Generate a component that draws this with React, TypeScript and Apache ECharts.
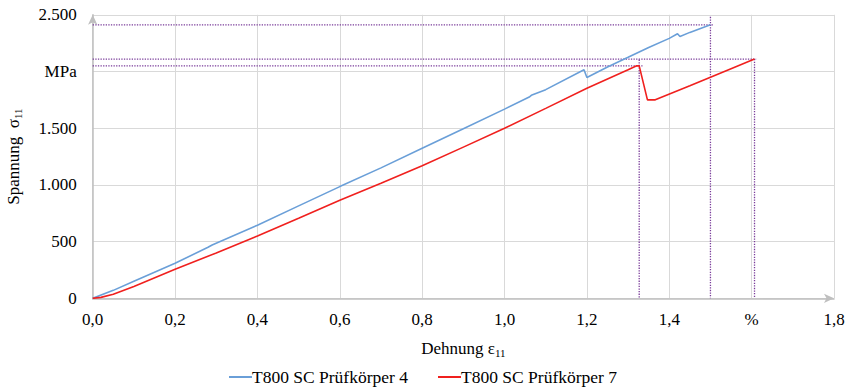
import React, { useEffect, useRef } from "react";
import * as echarts from "echarts";

// Stress–strain curves of two T800 SC specimens
const strainP4 = [0, 0.05, 0.1, 0.2, 0.28, 0.29, 0.4, 0.5, 0.6, 0.7, 0.8, 0.9, 1.0, 1.06, 1.065, 1.1, 1.193, 1.2, 1.25, 1.3, 1.35, 1.4, 1.42, 1.426, 1.45, 1.5];
const stressP4 = [0, 70, 150, 309, 450, 470, 645, 815, 985, 1150, 1324, 1495, 1668, 1775, 1790, 1840, 2015, 1947, 2040, 2125, 2212, 2292, 2333, 2309, 2345, 2412];

const strainP7 = [0, 0.02, 0.05, 0.1, 0.2, 0.3, 0.4, 0.5, 0.6, 0.7, 0.8, 0.9, 1.0, 1.1, 1.2, 1.3, 1.321, 1.327, 1.347, 1.366, 1.45, 1.55, 1.607];
const stressP7 = [0, 8, 35, 105, 256, 400, 550, 705, 865, 1015, 1168, 1333, 1500, 1675, 1853, 2015, 2050, 2050, 1750, 1750, 1875, 2025, 2110];

const seriesNames = ["T800 SC Prüfkörper 4", "T800 SC Prüfkörper 7"];
const xTickUnit = "%";
const yTickUnit = "MPa";

const FONT = "Liberation Serif, serif";

function zip(xs: number[], ys: number[]) {
  return xs.map((x, i) => [x, ys[i]]);
}

// dotted guide from the y axis to a point and down to the x axis
function guide(x: number, y: number, overX: number, overY: number) {
  return [
    [0, y],
    [x + overX, y],
    [null, null],
    [x, y + overY],
    [x, 0],
  ];
}

export default function App() {
  const ref = useRef<HTMLDivElement>(null);

  useEffect(() => {
    document.body.style.margin = "0";
    if (!ref.current) return;
    const chart = echarts.init(ref.current, undefined, { renderer: "svg" });

    // characteristic points: maximum of specimen 4, first peak and end of specimen 7
    const iMax4 = stressP4.indexOf(Math.max(...stressP4));
    const first7 = stressP7.slice(0, 19);
    const iPeak7 = first7.lastIndexOf(Math.max(...first7));
    const iEnd7 = strainP7.length - 1;

    const guideStyle = { color: "#7a3c9a", width: 1.3, type: "dotted" as const };
    const txt = { fontFamily: FONT, fontSize: 17, color: "#000" };
    const sub = { fontFamily: FONT, fontSize: 11, color: "#000", padding: [9, 0, 0, 0] };

    chart.setOption({
      animation: false,
      textStyle: { fontFamily: FONT },
      grid: { left: 92.7, right: 11, top: 14.8, bottom: 92.7, outerBoundsMode: "none" },
      legend: {
        data: seriesNames,
        top: 364,
        left: "center",
        padding: 4,
        itemWidth: 23,
        itemHeight: 2,
        itemGap: 29,
        textStyle: { ...txt, fontSize: 17.5, padding: [0, 0, 0, -5] },
      },
      xAxis: {
        type: "value",
        min: 0,
        max: 1.8,
        interval: 0.2,
        name: "{a|Dehnung ε}{s|11}",
        nameLocation: "middle",
        nameGap: 40,
        nameTextStyle: { rich: { a: txt, s: sub } },
        axisLine: {
          show: true,
          symbol: ["none", "arrow"],
          symbolSize: [7, 10],
          lineStyle: { color: "#bfbfbf", width: 1.5 },
        },
        axisTick: { show: false },
        splitLine: { show: true, lineStyle: { color: "#d9d9d9", width: 1 } },
        axisLabel: {
          margin: 13,
          ...txt,
          formatter: (v: number) =>
            Math.abs(v - 1.6) < 1e-9 ? xTickUnit : v.toFixed(1).replace(".", ","),
        },
      },
      yAxis: {
        type: "value",
        min: 0,
        max: 2500,
        interval: 500,
        name: "{a|Spannung  σ}{s|11}",
        nameLocation: "middle",
        nameGap: 69,
        nameTextStyle: { rich: { a: txt, s: sub } },
        axisLine: {
          show: true,
          symbol: ["none", "arrow"],
          symbolSize: [7, 10],
          lineStyle: { color: "#bfbfbf", width: 1.5 },
        },
        axisTick: { show: false },
        splitLine: { show: true, lineStyle: { color: "#d9d9d9", width: 1 } },
        axisLabel: {
          margin: 16,
          ...txt,
          formatter: (v: number) => {
            if (v === 2000) return yTickUnit;
            if (v >= 1000) {
              const k = Math.floor(v / 1000);
              const r = String(v % 1000).padStart(3, "0");
              return `${k}.${r}`;
            }
            return String(v);
          },
        },
      },
      series: [
        {
          name: "guide4",
          type: "line",
          silent: true,
          symbol: "none",
          connectNulls: false,
          lineStyle: guideStyle,
          data: guide(strainP4[iMax4], stressP4[iMax4], 0.008, 70),
          z: 1,
        },
        {
          name: "guide7a",
          type: "line",
          silent: true,
          symbol: "none",
          connectNulls: false,
          lineStyle: guideStyle,
          data: guide(strainP7[iPeak7], stressP7[iPeak7], 0.008, 55),
          z: 1,
        },
        {
          name: "guide7b",
          type: "line",
          silent: true,
          symbol: "none",
          connectNulls: false,
          lineStyle: guideStyle,
          data: guide(strainP7[iEnd7], stressP7[iEnd7], 0.004, 0),
          z: 1,
        },
        {
          name: seriesNames[0],
          type: "line",
          symbol: "none",
          color: "#6a9fd8",
          lineStyle: { color: "#6a9fd8", width: 1.6 },
          data: zip(strainP4, stressP4),
          z: 3,
        },
        {
          name: seriesNames[1],
          type: "line",
          symbol: "none",
          color: "#f0201e",
          lineStyle: { color: "#f0201e", width: 1.6 },
          data: zip(strainP7, stressP7),
          z: 3,
        },
      ],
    });

    return () => chart.dispose();
  }, []);

  return <div ref={ref} style={{ width: 845, height: 391 }} />;
}
